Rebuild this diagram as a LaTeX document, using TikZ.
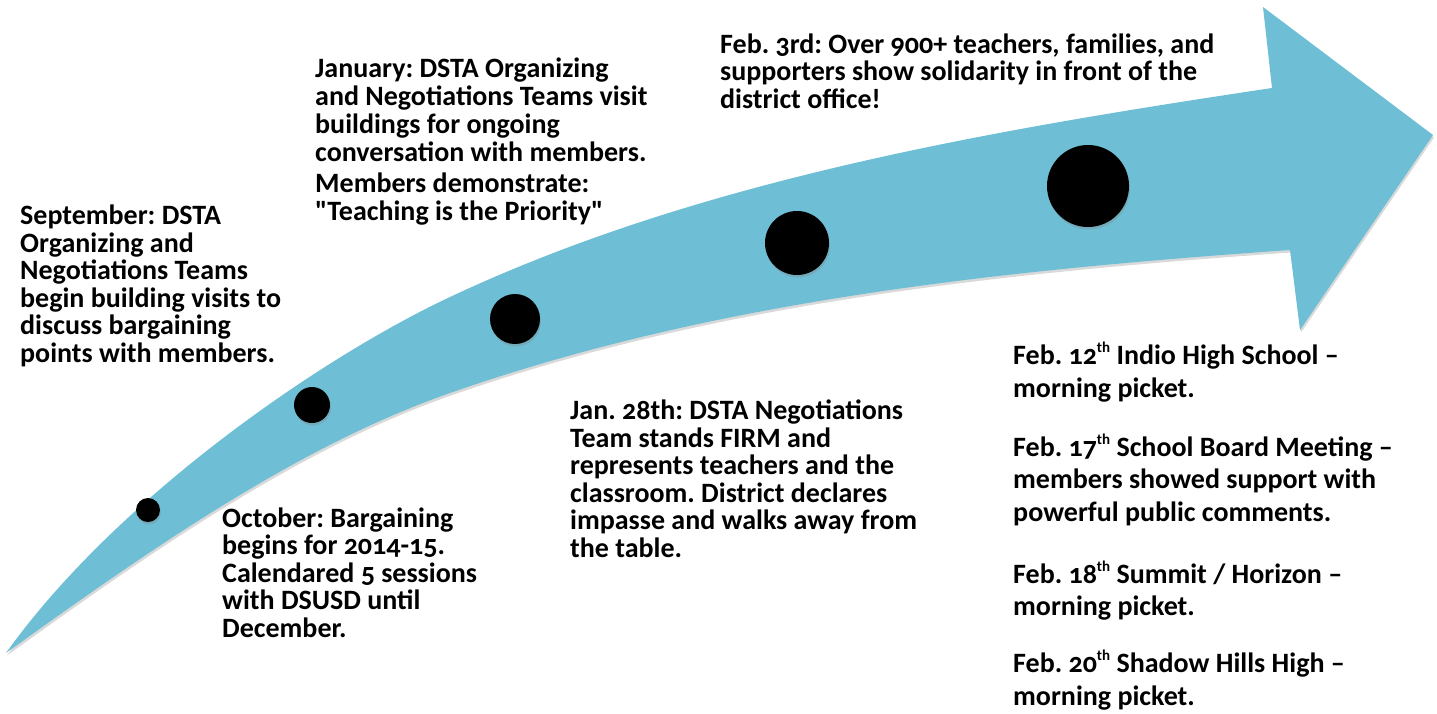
\documentclass[tikz,border=0pt]{standalone}
\usepackage{fontspec}
\setmainfont{Carlito}[Numbers=OldStyle]
\usetikzlibrary{shadows}

\definecolor{arrowblue}{RGB}{110,191,213}

\newcommand{\ordsuf}[1]{\raisebox{.85ex}{\fontsize{15}{15}\selectfont #1}}

\tikzset{
  soft shadow/.style={drop shadow={shadow xshift=1pt, shadow yshift=-2.5pt, opacity=.3}},
  milestone/.style={circle, fill=black, inner sep=0pt, soft shadow},
  % notes are placed by the baseline of their last line
  note/.style={anchor=base west, align=left, inner sep=0pt,
    font=\bfseries\fontsize{28}{27.5}\selectfont\frenchspacing},
}

\begin{document}
\begin{tikzpicture}[x=1pt, y=-1pt]
    \useasboundingbox (0,0) rectangle (1437,713);

    % outline points of the arrow
    \coordinate (tail) at (6,653);
    \coordinate (topmid) at (450,297);
    \coordinate (neckup) at (1272,88);
    \coordinate (barbup) at (1263,7);
    \coordinate (tip) at (1433,135);
    \coordinate (barbdown) at (1300,330);
    \coordinate (neckdown) at (1290,250);
    \coordinate (botmid) at (450,393);

    % curved timeline arrow
    \fill[arrowblue, soft shadow]
        (tail) .. controls (116,499) and (320,358) .. (topmid)
               .. controls (700,179.5) and (992,130) .. (neckup)
        -- (barbup) -- (tip) -- (barbdown) -- (neckdown)
               .. controls (990,271) and (710,302) .. (botmid)
               .. controls (300,445.5) and (156,545) .. (tail)
        -- cycle;

    % milestones, growing along the arrow
    \node[milestone, minimum size=24pt] (sep) at (148,510) {};
    \node[milestone, minimum size=36pt] (oct) at (312,405) {};
    \node[milestone, minimum size=50pt] (jan) at (515,319) {};
    \node[milestone, minimum size=64pt] (jan28) at (797,243) {};
    \node[milestone, minimum size=82pt] (feb3) at (1088,186) {};

    \node[note] (septext) at (20,362) {September: DSTA\\Organizing and\\Negotiations Teams\\begin building visits to\\discuss bargaining\\points with members.};
    \node[note] (octtext) at (222,637) {October: Bargaining\\begins for 2014-15.\\Calendared 5 sessions\\with DSUSD until\\December.};
    \node[note, font=\bfseries\fontsize{28}{28}\selectfont\frenchspacing] (jantext) at (315,220)
        {January: DSTA Organizing\\and Negotiations Teams visit\\buildings for ongoing\\conversation with members.\\[3pt]Members demonstrate:\\\textquotedbl Teaching is the Priority\textquotedbl};
    \node[note] (jan28text) at (570,557) {Jan. 28th: DSTA Negotiations\\Team stands FIRM and\\represents teachers and the\\classroom. District declares\\impasse and walks away from\\the table.};
    \node[note] (feb3text) at (720,108) {Feb. 3rd: Over 900+ teachers, families, and\\supporters show solidarity in front of the\\district office!};
    \node[note, font=\bfseries\fontsize{28}{32.5}\selectfont\frenchspacing] (febtext) at (1013,705)
        {Feb. 12\ordsuf{th} Indio High School --\\morning picket.\\[26.5pt]
         Feb. 17\ordsuf{th} School Board Meeting --\\members showed support with\\powerful public comments.\\[29.5pt]
         Feb. 18\ordsuf{th} Summit / Horizon --\\morning picket.\\[24.5pt]
         Feb. 20\ordsuf{th} Shadow Hills High --\\morning picket.};
\end{tikzpicture}
\end{document}
